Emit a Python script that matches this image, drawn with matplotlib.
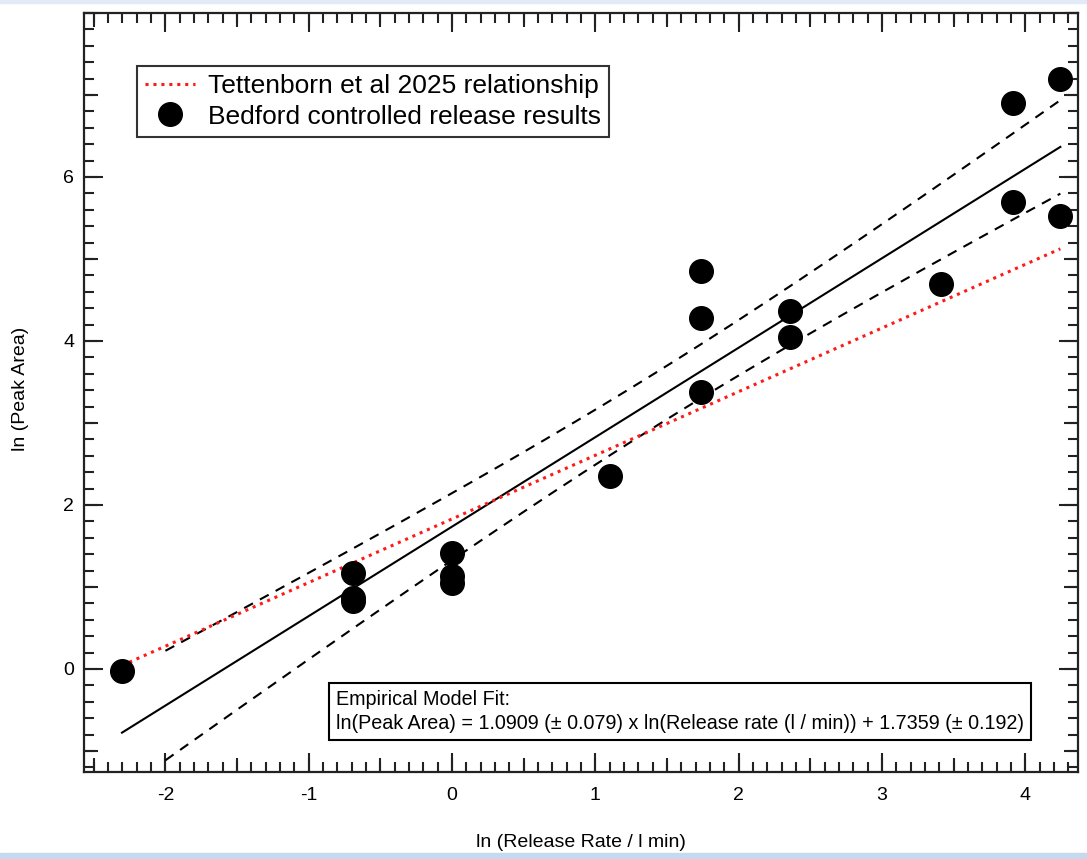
import numpy as np
import matplotlib
matplotlib.use("Agg")
import matplotlib.pyplot as plt
from matplotlib.ticker import MultipleLocator, NullLocator, FixedLocator

# ln(release rate / l min^-1) and ln(peak area) for the Bedford controlled releases
release_ln = [-2.303, -0.693, -0.693, -0.693, 0.0, 0.0, 0.0, 1.099,
              1.736, 1.736, 1.736, 2.359, 2.359, 3.410, 3.912, 3.912,
              4.245, 4.245]
peak_ln = [-0.02, 1.17, 0.87, 0.83, 1.42, 1.14, 1.05, 2.35,
           4.85, 4.28, 3.38, 4.37, 4.05, 4.70, 6.90, 5.70,
           7.20, 5.53]

# empirical model fit coefficients
fit_slope = 1.0909
fit_intercept = 1.7359
t_95 = 2.12          # two-sided 95 % t value, n - 2 = 16 dof
band_start = -2.0

# Tettenborn et al 2025 relationship
tett_slope = 0.776
tett_intercept = 1.83

x_ticks = [-2, -1, 0, 1, 2, 3, 4]
y_ticks = [0, 2, 4, 6]

plt.rcParams["font.family"] = ["Liberation Sans", "DejaVu Sans"]
plt.rcParams["axes.unicode_minus"] = False

fig = plt.figure(figsize=(10.87, 8.59), dpi=100)
fig.patch.set_facecolor("white")
ax = fig.add_axes([0.0773, 0.1013, 0.9144, 0.8836])

x = np.asarray(release_ln)
y = np.asarray(peak_ln)

# fitted line and its 95 % confidence band
xf = np.linspace(x.min(), x.max(), 200)
ax.plot(xf, fit_slope * xf + fit_intercept, color="black", lw=1.5, zorder=3)

n = len(x)
xbar = x.mean()
sxx = ((x - xbar) ** 2).sum()
resid = y - (fit_slope * x + fit_intercept)
s = np.sqrt((resid ** 2).sum() / (n - 2))
xb = np.linspace(band_start, x.max(), 200)
half = t_95 * s * np.sqrt(1.0 / n + (xb - xbar) ** 2 / sxx)
centre = fit_slope * xb + fit_intercept
for sign in (1, -1):
    ax.plot(xb, centre + sign * half, color="black", lw=1.5,
            linestyle=(0, (4.8, 3.8)), zorder=3)

tett_line, = ax.plot(xf, tett_slope * xf + tett_intercept, color="#ff1a1a",
                     lw=2.2, linestyle=(0, (1, 1.6)), zorder=4,
                     label="Tettenborn et al 2025 relationship")

pts, = ax.plot(x, y, "o", ms=17, color="black", mec="black", zorder=5,
               label="Bedford controlled release results")

ax.set_xlim(-2.568, 4.368)
ax.set_ylim(-1.256, 8.0)

# ticks: major with labels, medium on secondary axes, minor fine
ax.xaxis.set_major_locator(FixedLocator(x_ticks))
ax.yaxis.set_major_locator(FixedLocator(y_ticks))
ax.xaxis.set_minor_locator(MultipleLocator(0.1))
ax.yaxis.set_minor_locator(MultipleLocator(0.2))
ax.tick_params(which="both", direction="in", top=True, right=True,
               width=1.5, color="#222222")
ax.tick_params(which="major", length=14)
ax.tick_params(which="minor", length=7)
ax.tick_params(axis="x", which="major", pad=11, labelsize=14)
ax.tick_params(axis="y", which="major", pad=7, labelsize=14)

for side in ("bottom", "top"):
    sec = ax.secondary_xaxis(side)
    sec.xaxis.set_major_locator(MultipleLocator(0.5))
    sec.xaxis.set_minor_locator(NullLocator())
    sec.tick_params(direction="in", length=10, width=1.5, color="#222222",
                    labelbottom=False, labeltop=False)
    for sp in sec.spines.values():
        sp.set_visible(False)
for side in ("left", "right"):
    sec = ax.secondary_yaxis(side)
    sec.yaxis.set_major_locator(MultipleLocator(1.0))
    sec.yaxis.set_minor_locator(NullLocator())
    sec.tick_params(direction="in", length=10, width=1.5, color="#222222",
                    labelleft=False, labelright=False)
    for sp in sec.spines.values():
        sp.set_visible(False)

for sp in ax.spines.values():
    sp.set_linewidth(1.6)
    sp.set_color("#222222")

ax.set_xlabel("ln (Release Rate / l min)", fontsize=14)
ax.set_ylabel("ln (Peak Area)", fontsize=14)
ax.xaxis.set_label_coords(0.5, -0.0935)
ax.xaxis.label.set_va("center")
ax.yaxis.set_label_coords(-0.0644, 0.505)
ax.yaxis.label.set_va("center")

leg = ax.legend(handles=[tett_line, pts], loc="upper left",
                bbox_to_anchor=(0.0533, 0.930), borderaxespad=0,
                fontsize=19, frameon=True, fancybox=False,
                edgecolor="black", handlelength=1.9, handletextpad=0.5,
                borderpad=0.3, labelspacing=0.25, numpoints=1)
leg.get_frame().set_linewidth(1.5)
leg.set_zorder(10)

ax.text(0.2535, 0.0797,
        "Empirical Model Fit:\n"
        "ln(Peak Area) = 1.0909 (\u00b1 0.079) x ln(Release rate (l / min)) "
        "+ 1.7359 (\u00b1 0.192)",
        transform=ax.transAxes, fontsize=14.2, ha="left", va="center",
        linespacing=1.3, zorder=10,
        bbox=dict(boxstyle="square,pad=0.35", fc="white", ec="black", lw=1.5))

# window edges
fig.patches.append(plt.Rectangle((0, 1 - 3 / 859), 1, 3 / 859,
                                 transform=fig.transFigure,
                                 color="#e1eaf6", zorder=0))
fig.patches.append(plt.Rectangle((0, 0), 1, 6 / 859,
                                 transform=fig.transFigure,
                                 color="#c5d9ef", zorder=0))

fig.savefig("out.png", dpi=100)
